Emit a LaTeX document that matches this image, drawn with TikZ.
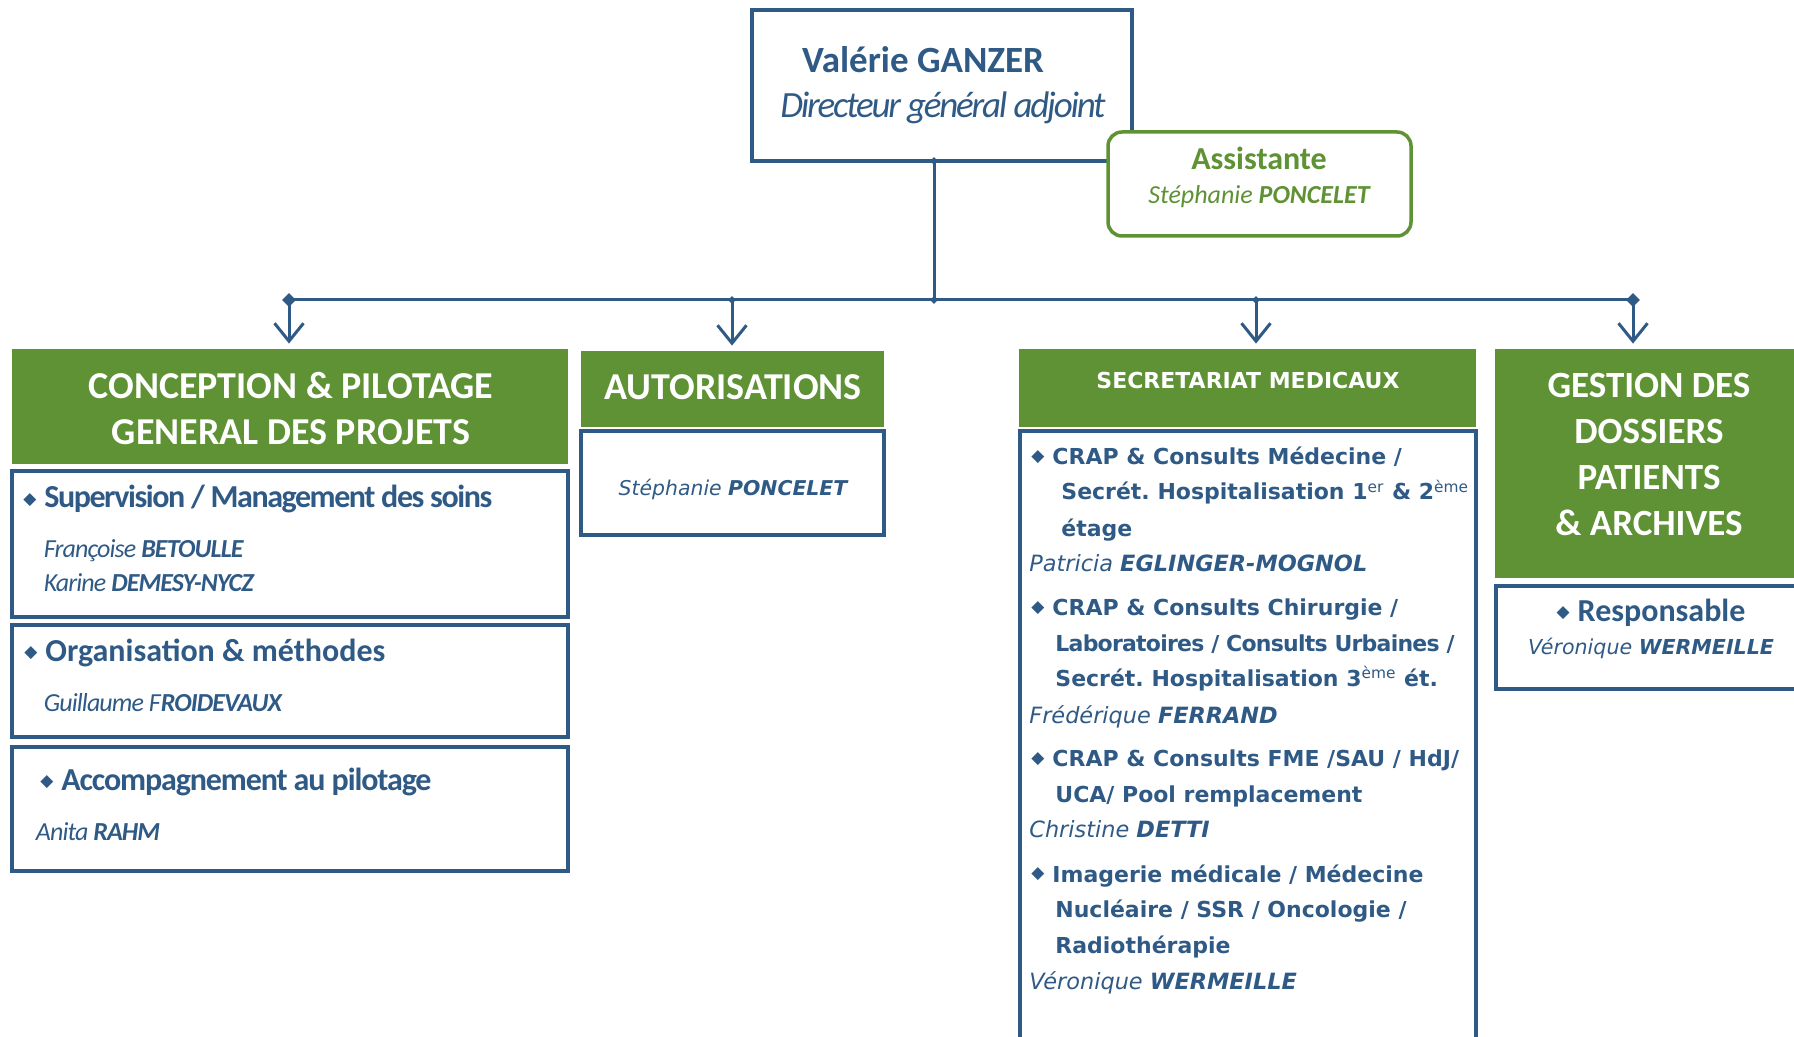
\documentclass[tikz,border=0pt]{standalone}
\usepackage{fontspec}
\setmainfont{Carlito}
\newfontfamily\verd{DejaVu Sans}
\newfontfamily\verdc[LetterSpace=-3.5]{DejaVu Sans}
\newfontfamily\carlc[LetterSpace=-3.5]{Carlito}
\newfontfamily\carlcs[LetterSpace=-4.5]{Carlito}
\newfontfamily\carlcc[LetterSpace=-6]{Carlito}
\usetikzlibrary{arrows.meta,fit,shapes.geometric}
\definecolor{dblue}{RGB}{47,90,133}
\definecolor{dgreen}{RGB}{94,146,52}
\newcommand\bul{\raisebox{1.6pt}{\verd\fontsize{8.5}{8.5}\selectfont ◆}}
\newcommand\bulbox{\makebox[10.5pt][l]{\bul}}
\tikzset{
  bluebox/.style={draw=dblue, line width=1.75pt, inner sep=0pt},
  greenbox/.style={fill=dgreen, draw=none, inner sep=0pt},
  asstbox/.style={draw=dgreen, line width=1.75pt, rounded corners=7pt, fill=white, inner sep=0pt},
  link/.style={draw=dblue, line width=1.5pt},
  drop/.style={link, -{Straight Barb[length=9pt,width=14.5pt,line width=1.5pt]}, shorten >=2.5pt},
  jdia/.style={diamond, fill=dblue, inner sep=0pt, minimum width=7pt, minimum height=7pt},
  jdias/.style={diamond, fill=dblue, inner sep=0pt, minimum width=4pt, minimum height=4pt},
  txt/.style={inner sep=0pt, text=dblue},
  hdr/.style={inner sep=0pt, text=white, anchor=base, font=\bfseries\fontsize{18.5}{23}\selectfont},
  hdrb/.style={inner sep=0pt, text=white, anchor=base, font=\bfseries\fontsize{19}{23}\selectfont},
  lbl/.style={txt, anchor=base west, font=\bfseries\fontsize{16}{19}\selectfont},
  lblc/.style={txt, anchor=base west, font=\carlc\bfseries\fontsize{16}{19}\selectfont},
  lblcs/.style={txt, anchor=base west, font=\carlcs\bfseries\fontsize{16}{19}\selectfont},
  nm/.style={txt, anchor=base west, font=\carlc\itshape\fontsize{13}{15}\selectfont},
  sec/.style={txt, anchor=base west, font=\verd\bfseries\fontsize{11}{13}\selectfont},
  secc/.style={txt, anchor=base west, font=\verdc\bfseries\fontsize{11}{13}\selectfont},
  secnm/.style={txt, anchor=base west, font=\verd\itshape\fontsize{11.2}{13}\selectfont},
}
\begin{document}
\begin{tikzpicture}[x=0.5pt,y=-0.5pt]
\useasboundingbox (0,0) rectangle (1794,1037);
\clip (0,0) rectangle (1794,1037);

% top box and assistant
\node[bluebox, fit={(752,10) (1132,161)}] (top) {};
\node[asstbox, fit={(1108,132) (1411,236)}] (asst) {};
\node[txt, anchor=base, font=\bfseries\fontsize{18.5}{22}\selectfont] (t-name) at (923,73) {Valérie GANZER};
\node[txt, anchor=base, font=\carlcc\itshape\fontsize{18.5}{22}\selectfont] (t-role) at (943,118) {Directeur général adjoint};
\node[inner sep=0pt, text=dgreen, anchor=base, font=\bfseries\fontsize{16}{19}\selectfont] (t-asst) at (1259,170) {Assistante};
\node[inner sep=0pt, text=dgreen, anchor=base, font=\itshape\fontsize{13}{15}\selectfont] (t-asstn) at (1259,204) {Stéphanie \textbf{PONCELET}};

% green headers
\node[greenbox, fit={(12,349) (568,464)}] (conc) {};
\node[greenbox, fit={(581,351) (884,427)}] (auto) {};
\node[greenbox, fit={(1019,349) (1476,427)}] (sec) {};
\node[greenbox, fit={(1495,349) (1810,578)}] (gest) {};

% blue content boxes
\node[bluebox, fit={(12,471) (568,617)}] (sup) {};
\node[bluebox, fit={(12,625) (568,737)}] (org) {};
\node[bluebox, fit={(12,747) (568,871)}] (acc) {};
\node[bluebox, fit={(581,431) (884,535)}] (autob) {};
\node[bluebox, fit={(1020,431) (1476,1060)}] (secb) {};
\node[bluebox, fit={(1496,586) (1810,689)}] (gestb) {};

% connectors
\node[jdias] (jt) at (934,161) {};
\node[jdias] (jc) at (934,300) {};
\node[jdia] (j1) at (289,300) {};
\node[jdias] (j2) at (732,300) {};
\node[jdias] (j3) at (1256,300) {};
\node[jdia] (j4) at (1633,300) {};
\draw[link] (jt.center) -- (jc.center);
\draw[link] (j1.center) -- (j4.center);
\draw[drop] (j1.center) -- (j1 |- conc.north);
\draw[drop] (j2.center) -- (j2 |- auto.north);
\draw[drop] (j3.center) -- (j3 |- sec.north);
\draw[drop] (j4.center) -- (j4 |- gest.north);

% header texts
\node[hdrb] (h-c1) at (291,399) {CONCEPTION \& PILOTAGE};
\node[hdrb] (h-c2) at (291,444.5) {GENERAL DES PROJETS};
\node[hdrb] (h-a) at (733,400) {AUTORISATIONS};
\node[inner sep=0pt, text=white, anchor=base, font=\verd\bfseries\fontsize{11}{13}\selectfont] (h-s) at (1248,389) {SECRETARIAT MEDICAUX};
\node[hdr] (h-g1) at (1649,397.5) {GESTION DES};
\node[hdr] (h-g2) at (1649,443.3) {DOSSIERS};
\node[hdr] (h-g3) at (1649,489) {PATIENTS};
\node[hdr] (h-g4) at (1649,535) {\& ARCHIVES};

% left column texts
\node[lblcs] (l-sup) at (23,508) {\bulbox Supervision / Management des soins};
\node[nm] (n-fb) at (43.5,557.5) {Françoise \textbf{BETOULLE}};
\node[nm] (n-kd) at (43.5,591) {Karine \textbf{DEMESY-NYCZ}};
\node[lbl] (l-org) at (24,661) {\bulbox Organisation \& méthodes};
\node[nm] (n-gf) at (43.5,711) {Guillaume F\textbf{ROIDEVAUX}};
\node[lblc] (l-acc) at (40,790) {\bulbox Accompagnement au pilotage};
\node[nm] (n-ar) at (35.5,840) {Anita \textbf{RAHM}};

% autorisations
\node[txt, anchor=base, font=\verd\itshape\fontsize{10.2}{12}\selectfont] (n-sp) at (733,495) {Stéphanie \textbf{PONCELET}};

% secretariat
\node[sec] (s1) at (1031,464.5) {\bulbox CRAP \& Consults Médecine /};
\node[sec] (s2) at (1061,500) {Secrét.\ Hospitalisation 1\textsuperscript{\mdseries er} \& 2\textsuperscript{\mdseries ème}};
\node[sec] (s3) at (1061,536.5) {étage};
\node[secnm] (s4) at (1029,571) {Patricia \textbf{EGLINGER-MOGNOL}};
\node[sec] (s5) at (1031,615.5) {\bulbox CRAP \& Consults Chirurgie /};
\node[secc] (s6) at (1055,651) {Laboratoires / Consults Urbaines /};
\node[sec] (s7) at (1055,686.5) {Secrét.\ Hospitalisation 3\textsuperscript{\mdseries ème} ét.};
\node[secnm] (s8) at (1029,723) {Frédérique \textbf{FERRAND}};
\node[sec] (s9) at (1031,766.5) {\bulbox CRAP \& Consults FME /SAU / HdJ/};
\node[sec] (s10) at (1055,802) {UCA/ Pool remplacement};
\node[secnm] (s11) at (1029,837.5) {Christine \textbf{DETTI}};
\node[sec] (s12) at (1031,882) {\bulbox Imagerie médicale / Médecine};
\node[sec] (s13) at (1055,917.5) {Nucléaire / SSR / Oncologie /};
\node[sec] (s14) at (1055,953) {Radiothérapie};
\node[secnm] (s15) at (1029,989.6) {Véronique \textbf{WERMEILLE}};

% gestion
\node[txt, anchor=base, font=\bfseries\fontsize{16}{19}\selectfont] (g-r) at (1651,621) {\bulbox Responsable};
\node[txt, anchor=base, font=\verd\itshape\fontsize{10.3}{12}\selectfont] (g-n) at (1651,654) {Véronique \textbf{WERMEILLE}};
\end{tikzpicture}
\end{document}
